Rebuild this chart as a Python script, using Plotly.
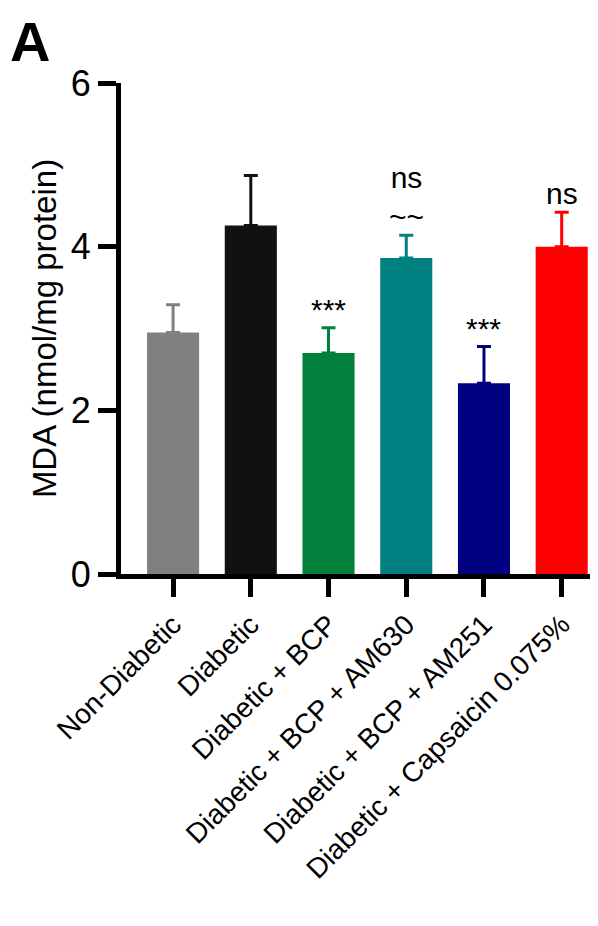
import plotly.graph_objects as go

groups = ["Non-Diabetic", "Diabetic", "Diabetic + BCP", "Diabetic + BCP + AM630",
          "Diabetic + BCP + AM251", "Diabetic + Capsaicin 0.075%"]
mda = [2.95, 4.26, 2.70, 3.86, 2.33, 4.00]
sem = [0.34, 0.61, 0.31, 0.28, 0.45, 0.42]
colors = ["#808080", "#111111", "#00803a", "#008080", "#000080", "#ff0000"]
marks = ["", "", "***", "ns<br>~~", "***", "ns"]

fig = go.Figure()
for i, g in enumerate(groups):
    fig.add_trace(go.Bar(
        x=[i], y=[mda[i]], width=0.67, marker_color=colors[i], marker_line_width=0,
        error_y=dict(type="data", array=[sem[i]], symmetric=False, arrayminus=[0],
                     color=colors[i], thickness=3, width=7),
        showlegend=False))
    if marks[i]:
        fig.add_annotation(x=i, y=mda[i] + sem[i], text=marks[i], showarrow=False,
                           yanchor="bottom", yshift=0,
                           font=dict(size=30 if "ns" in marks[i] else 30, color="black"))

fig.add_annotation(x=0, y=1, xref="paper", yref="paper", xshift=-113, yshift=75,
                   text="<b>A</b>", showarrow=False, xanchor="left", yanchor="top",
                   font=dict(size=56, color="black"))

fig.update_layout(
    width=598, height=926, plot_bgcolor="white", paper_bgcolor="white",
    margin=dict(l=113, r=0, t=75, b=360),
    font=dict(family="Liberation Sans, Arial", color="black"),
)
fig.update_xaxes(range=[-0.67, 5.57], tickvals=list(range(6)), ticktext=groups,
                 tickangle=-45, tickfont=dict(size=28), showline=True, linewidth=5,
                 linecolor="black", ticks="outside", ticklen=18, tickwidth=5,
                 tickcolor="black", showgrid=False, zeroline=False)
fig.update_yaxes(range=[0, 6], tickvals=[0, 2, 4, 6], tickfont=dict(size=36),
                 title=dict(text="MDA (nmol/mg protein)", font=dict(size=33), standoff=6),
                 showline=True, linewidth=5, linecolor="black", ticks="outside",
                 ticklen=18, tickwidth=5, tickcolor="black", showgrid=False, zeroline=False)

fig.write_html("out.html")
